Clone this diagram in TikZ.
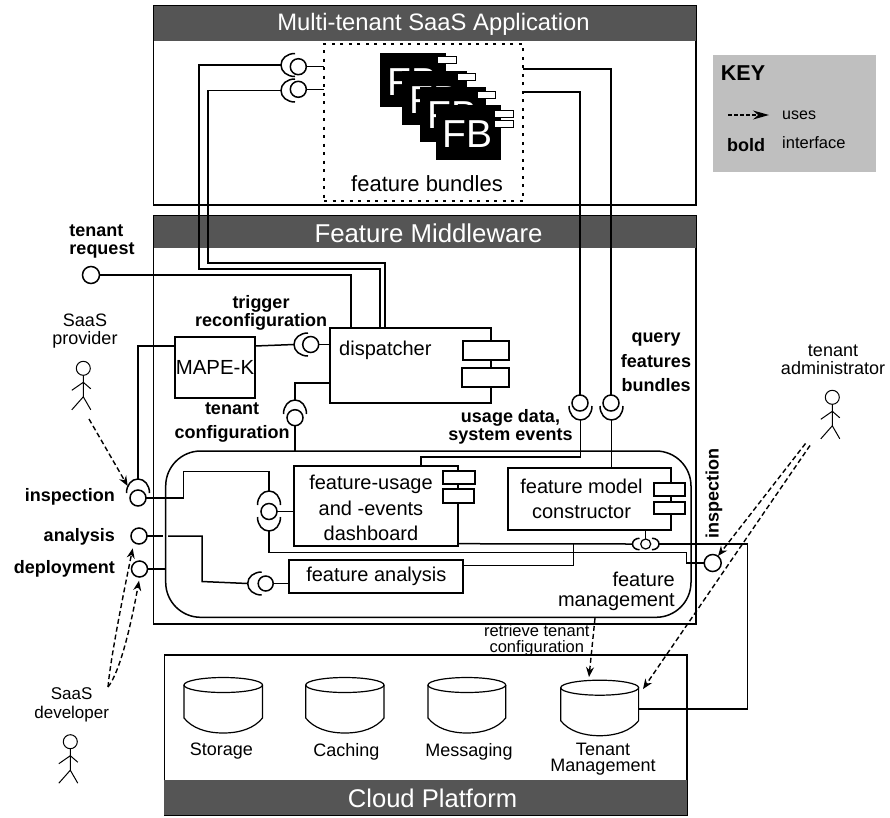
\documentclass[tikz,border=0pt]{standalone}
\usepackage{fontspec}
\setmainfont{Liberation Sans}
\usetikzlibrary{arrows.meta,calc}
\newcommand\fs[2]{\fontsize{#1}{#2}\selectfont}
\definecolor{hdr}{HTML}{555555}
\definecolor{keyfill}{HTML}{BFBFBF}
\newcommand\rnode[7][]{%
  \pgfmathsetmacro\rnW{#5-#3}\pgfmathsetmacro\rnH{#6-#4}%
  \pgfmathsetmacro\rnX{(#3+#5)/2}\pgfmathsetmacro\rnY{(#4+#6)/2}%
  \node[rect,#1,minimum width=\rnW pt,minimum height=\rnH pt] (#2) at (\rnX,\rnY) {#7};}
\newcommand\sock[5][1]{% [scale] name x y angle
  \begin{scope}[shift={(#3,#4)},rotate=#5,scale=#1]
    \draw[conn] (0,-11.5) .. controls (-8,-11.5) and (-14,-6.5) .. (-14,0)
                .. controls (-14,6.5) and (-8,11.5) .. (0,11.5);
    \coordinate (#2) at (-14,0);
  \end{scope}}
\newcommand\actor[2]{%
  \begin{scope}[shift={(#1,#2)}]
    \draw[thin line] (0,0) circle [radius=7];
    \draw[thin line] (0,7) -- (0,28.5) (0,14) -- (-11.5,22) (0,14) -- (7.5,20.5)
      (-11.5,41.5) -- (0,28.5) -- (7.5,41.5);
  \end{scope}}
\newcommand\cyl[3]{% x1 x2 ymid
  \pgfmathsetmacro\cX{(#1+#2)/2}\pgfmathsetmacro\cR{(#2-#1)/2}%
  \draw[cylline] (\cX,#3) ellipse [x radius=\cR,y radius=7.5];
  \draw[cylline] (#1,#3) -- (#1,#3+33) .. controls (#1+8,#3+43) and (#1+22,#3+48) .. (\cX,#3+48)
     .. controls (#2-22,#3+48) and (#2-8,#3+43) .. (#2,#3+33) -- (#2,#3);}
\tikzset{
  rect/.style={draw=black,inner sep=0pt,outer sep=0pt,align=center},
  container/.style={line width=1.6pt},
  header/.style={draw=none,fill=hdr,text=white},
  headtext/.style={inner sep=0pt,text=white},
  comp/.style={line width=2pt,font=\fs{20}{25}},
  port/.style={line width=2pt,fill=white},
  conn/.style={line width=1.5pt,line join=miter},
  thin line/.style={line width=1pt},
  cylline/.style={line width=1.2pt},
  lolly/.style={circle,draw=black,fill=white,line width=1.5pt,inner sep=0pt,outer sep=0pt,minimum size=16pt},
  blab/.style={font=\fs{18}{18}\bfseries,align=center,inner sep=0pt},
  lab/.style={font=\fs{18}{18},align=center,inner sep=0pt},
  uses/.style={line width=1.4pt,dash pattern=on 5pt off 3pt,-{Stealth[length=10pt,width=8pt]}},
}
\begin{document}
\begin{tikzpicture}[x=1pt,y=-1pt]
\useasboundingbox (0,0) rectangle (890,817);
% containers
\rnode[container]{saasbox}{153.5}{6}{696}{205}{}
\rnode[header]{saashead}{153.5}{6}{696}{41}{}
\node[headtext,font=\fs{23.8}{25}] (saastitle) at (433.5,24.5) {Multi-tenant SaaS Application};
\rnode[container]{fmbox}{153.5}{216}{696}{624}{}
\rnode[header]{fmhead}{153.5}{216}{696}{248}{}
\node[headtext,font=\fs{25.8}{25}] (fmtitle) at (428.5,233) {Feature Middleware};
\rnode[container]{cloudbox}{164.3}{655}{686.8}{815}{}
\rnode[header]{cloudhead}{164.3}{780}{686.8}{815}{}
\node[headtext,font=\fs{25.6}{25}] (cloudtitle) at (432.5,798.5) {Cloud Platform};
% key
\rnode[draw=none,fill=keyfill]{keybox}{712.7}{55}{876}{171.7}{}
\node[anchor=west,inner sep=0pt,font=\fs{21.5}{22}\bfseries] (keytitle) at (720.7,73) {KEY};
\coordinate (keyA) at (728,115);
\coordinate (keyB) at (769,115);
\draw[line width=1.4pt,dash pattern=on 4pt off 2pt,-{Stealth[length=16pt,width=9pt]}] (keyA) -- (keyB);
\node[anchor=west,inner sep=0pt,font=\fs{16}{16}] (keyuses) at (782,115) {uses};
\node[anchor=west,inner sep=0pt,font=\fs{18}{18}\bfseries] (keybold) at (727,145) {bold};
\node[anchor=west,inner sep=0pt,font=\fs{16.5}{16}] (keyiface) at (782,143) {interface};
% feature bundles
\rnode[line width=2pt,dash pattern=on 3pt off 5.5pt]{fbox}{324}{43.5}{522.5}{201}{}
\rnode[draw=none,fill=black]{fb1}{380}{53}{446}{107}{}
\node[anchor=base west,inner sep=0pt,text=white,font=\fs{39}{39}] (fbt1) at (387,95) {FB};
\rnode[port,line width=1pt]{fbp1}{437}{56.5}{456}{63}{}
\rnode[draw=none,fill=black]{fb2}{402}{70.5}{467}{125}{}
\node[anchor=base west,inner sep=0pt,text=white,font=\fs{39}{39}] (fbt2) at (409,113) {FB};
\rnode[port,line width=1pt]{fbp2}{457}{73.5}{475}{80}{}
\rnode[draw=none,fill=black]{fb3}{420}{87}{486}{142}{}
\node[anchor=base west,inner sep=0pt,text=white,font=\fs{39}{39}] (fbt3) at (427,128) {FB};
\rnode[port,line width=1pt]{fbp3}{477}{91.5}{495}{98}{}
\rnode[draw=none,fill=black]{fb4}{436}{105}{501}{160}{}
\node[anchor=base west,inner sep=0pt,text=white,font=\fs{39}{39}] (fbt4) at (442,147) {FB};
\rnode[port,line width=1pt]{fbp4}{494}{110.5}{513}{117}{}
\rnode[port,line width=1pt]{fbp5}{494}{120.5}{513}{127}{}
\node[inner sep=0pt,font=\fs{22}{22}] (fblabel) at (427,184) {feature bundles};
% components
\rnode[line width=1.3pt,font=\fs{20.4}{22}]{mape}{175}{337}{255}{398}{MAPE-K}
\rnode[comp]{dispatcher}{330}{328}{491}{403}{}
\node[anchor=west,inner sep=0pt,font=\fs{20}{25}] (displabel) at (339,350) {dispatcher};
\rnode[line width=1.5pt,rounded corners=35pt]{fm}{165.7}{451}{691}{617.3}{}
\rnode[comp]{dash}{294}{466}{458}{546}{}
\node[inner sep=0pt,align=center,font=\fs{20}{25.5}] (dashlabel) at (371,508) {feature-usage\\and -events\\dashboard};
\rnode[comp]{cons}{507.7}{467.5}{671}{530}{}
\node[inner sep=0pt,align=center,font=\fs{20}{25}] (conslabel) at (581.5,499) {feature model\\constructor};
\rnode[comp]{fa}{289.3}{560}{463.3}{592.7}{feature analysis}
\node[anchor=east,inner sep=0pt,align=right,font=\fs{20}{20}] (fmlabel) at (675,591) {feature\\management};
% lollipops
\node[lolly] (lolA1) at (298.3,66.7) {};
\node[lolly] (lolA2) at (298.3,89.3) {};
\node[lolly,minimum size=17pt] (treq) at (91,275) {};
\node[lolly] (lolT) at (310.7,344.5) {};
\node[lolly] (lolTC) at (295,417.7) {};
\node[lolly] (lolU) at (580,403) {};
\node[lolly] (lolQ) at (611,403) {};
\node[lolly] (lolIL) at (138,498) {};
\node[lolly] (lolAn) at (139,536) {};
\node[lolly] (lolDep) at (139.5,569) {};
\node[lolly] (lolD) at (269,511.5) {};
\node[lolly,minimum size=15pt] (lolFA) at (265.7,583.5) {};
\node[lolly,minimum size=10pt,line width=1.2pt] (lolC) at (645.7,544) {};
\node[lolly,minimum size=17pt] (lolIR) at (712.7,563) {};
% sockets
\sock{sockA1}{295}{65}{0}
\sock{sockA2}{295}{90.5}{0}
\sock{sockT}{308}{344.5}{0}
\sock{sockTC}{295}{414}{-90}
\sock{sockU}{580.5}{406}{90}
\sock{sockQ}{611.5}{406}{90}
\sock{sockIL}{138}{493}{-90}
\sock{sockDU}{269}{505}{-90}
\sock{sockDL}{269}{517}{90}
\sock{sockAn}{261.7}{583.5}{0}
\sock[0.5]{sockCL}{639.5}{544}{0}
\sock[0.5]{sockCR}{652}{544}{180}
% connectors
\coordinate (tenantR) at (638.6,709);
\coordinate (gapA) at (163,536);
\coordinate (gapB) at (168,536);
\coordinate (busJoin) at (573.3,544);
\draw[conn] (treq.east) -| (dispatcher.north -| 351,0);
\draw[conn] (sockA1) -| (199,269) -| (dispatcher.north -| 380,0);
\draw[conn] (sockA2) -| (208,263) -| (dispatcher.north -| 385,0);
\draw[conn] (lolA1.east) -- (fbox.west |- lolA1);
\draw[conn] (lolA2.east) -- (fbox.west |- lolA2);
\draw[conn] (fbox.east |- 0,69) -| (lolQ.north);
\draw[conn] (fbox.east |- 0,92) -| (lolU.north);
\draw[conn] (sockQ) -- (cons.north -| sockQ);
\draw[conn] (sockU) |- (421,457) -- (dash.north -| 421,0);
\draw[conn] (mape.west |- 0,346) -| (sockIL);
\draw[conn] (mape.east |- 0,346) -- (sockT);
\draw[conn] (lolT.east) -- (dispatcher.west |- lolT);
\draw[conn] (sockTC) |- (dispatcher.west |- 0,383);
\draw[conn] (lolTC.south) -- (fm.north -| lolTC);
\draw[conn] (lolIL.east) -| (183.7,471.7) -| (sockDU);
\draw[conn] (sockDL) |- (686.7,552.5) |- (lolIR.west);
\draw[conn] (lolD.east) -- (dash.west |- lolD);
\draw[conn] (lolAn.east) -- (gapA);
\draw[conn] (gapB) -| (202,581.5) -- (sockAn);
\draw[conn] (lolDep.east) -- (fm.west |- lolDep);
\draw[conn] (lolFA.east) -- (fa.west |- lolFA);
\draw[conn] (fa.east |- 0,565.7) -| (busJoin);
\draw[conn] (dash.east |- 0,543.7) -- (sockCL);
\draw[conn] (cons.south -| lolC) -- (lolC.north);
\draw[conn] (sockCR) -- (747.7,544) |- (tenantR);
% ports
\rnode[port]{dp1}{463}{341}{509}{360}{}
\rnode[port]{dp2}{462}{367.5}{509}{387}{}
\rnode[port]{dap1}{443.3}{471}{475}{484}{}
\rnode[port]{dap2}{443}{489}{474}{503}{}
\rnode[port]{cp1}{654}{483}{685}{496}{}
\rnode[port]{cp2}{654}{501.7}{685}{514}{}
% cylinders
\cyl{184}{262.5}{685}
\cyl{305.7}{384}{685}
\cyl{428}{505.7}{685}
\cyl{560.7}{638.6}{687.7}
\node[lab] (lstorage) at (221.4,751.5) {Storage};
\node[lab] (lcaching) at (346.4,751.5) {Caching};
\node[lab] (lmessaging) at (469,751.5) {Messaging};
\node[font=\fs{18}{16},align=center,inner sep=0pt] (ltenant) at (603,759) {Tenant\\Management};
% actors
\actor{83.3}{368.3}
\actor{832.3}{397.3}
\actor{70.3}{741.7}
\node[lab] (lprov) at (85,331) {SaaS\\provider};
\node[lab] (ladmin) at (833,360) {tenant\\administrator};
\node[font=\fs{17}{19.5},align=center,inner sep=0pt] (ldev) at (71.7,705) {SaaS\\developer};
% labels
\node[blab,align=left] (ltreq) at (102,241) {tenant\\request};
\node[blab] (ltrig) at (261,313) {trigger\\reconfiguration};
\node[blab,font=\fs{18}{24}\bfseries] (ltconf) at (232,423) {tenant\\configuration};
\node[blab] (lusage) at (510.5,427) {usage data,\\system events};
\node[blab,font=\fs{18}{24.5}\bfseries] (lquery) at (656,362.5) {query\\features\\bundles};
\node[blab,anchor=east] (linsp) at (115,497) {inspection};
\node[blab,anchor=east] (lanal) at (115,537) {analysis};
\node[blab,anchor=east] (ldepl) at (115,569) {deployment};
\node[blab,rotate=90] (linspR) at (714,493.5) {inspection};
\node[font=\fs{16.5}{16.5},align=center,inner sep=0pt] (lretr) at (536.8,640) {retrieve tenant\\configuration};
% uses arrows
\coordinate (provFoot) at (89,419);
\coordinate (devA) at (108,687);
\coordinate (adminA) at (805.5,443.5);
\coordinate (adminB) at (810,445.5);
\coordinate (tipCylA) at (589,677);
\coordinate (tipCylB) at (643,689);
\coordinate (fmBottom) at (595,618);
\coordinate (tipInsL) at (127.7,486);
\coordinate (tipInsR) at (718,556);
\coordinate (tipAn) at (132.7,548.3);
\coordinate (tipDep) at (139,580.7);
\draw[uses] (provFoot) -- (tipInsL);
\draw[uses] (adminA) -- (tipInsR);
\draw[uses] (adminB) -- (tipCylB);
\draw[uses] (fmBottom) -- (tipCylA);
\draw[uses] (devA) .. controls (110,665) and (117,625) .. (tipAn);
\draw[uses] (devA) .. controls (120,672) and (131,625) .. (tipDep);
\end{tikzpicture}
\end{document}
